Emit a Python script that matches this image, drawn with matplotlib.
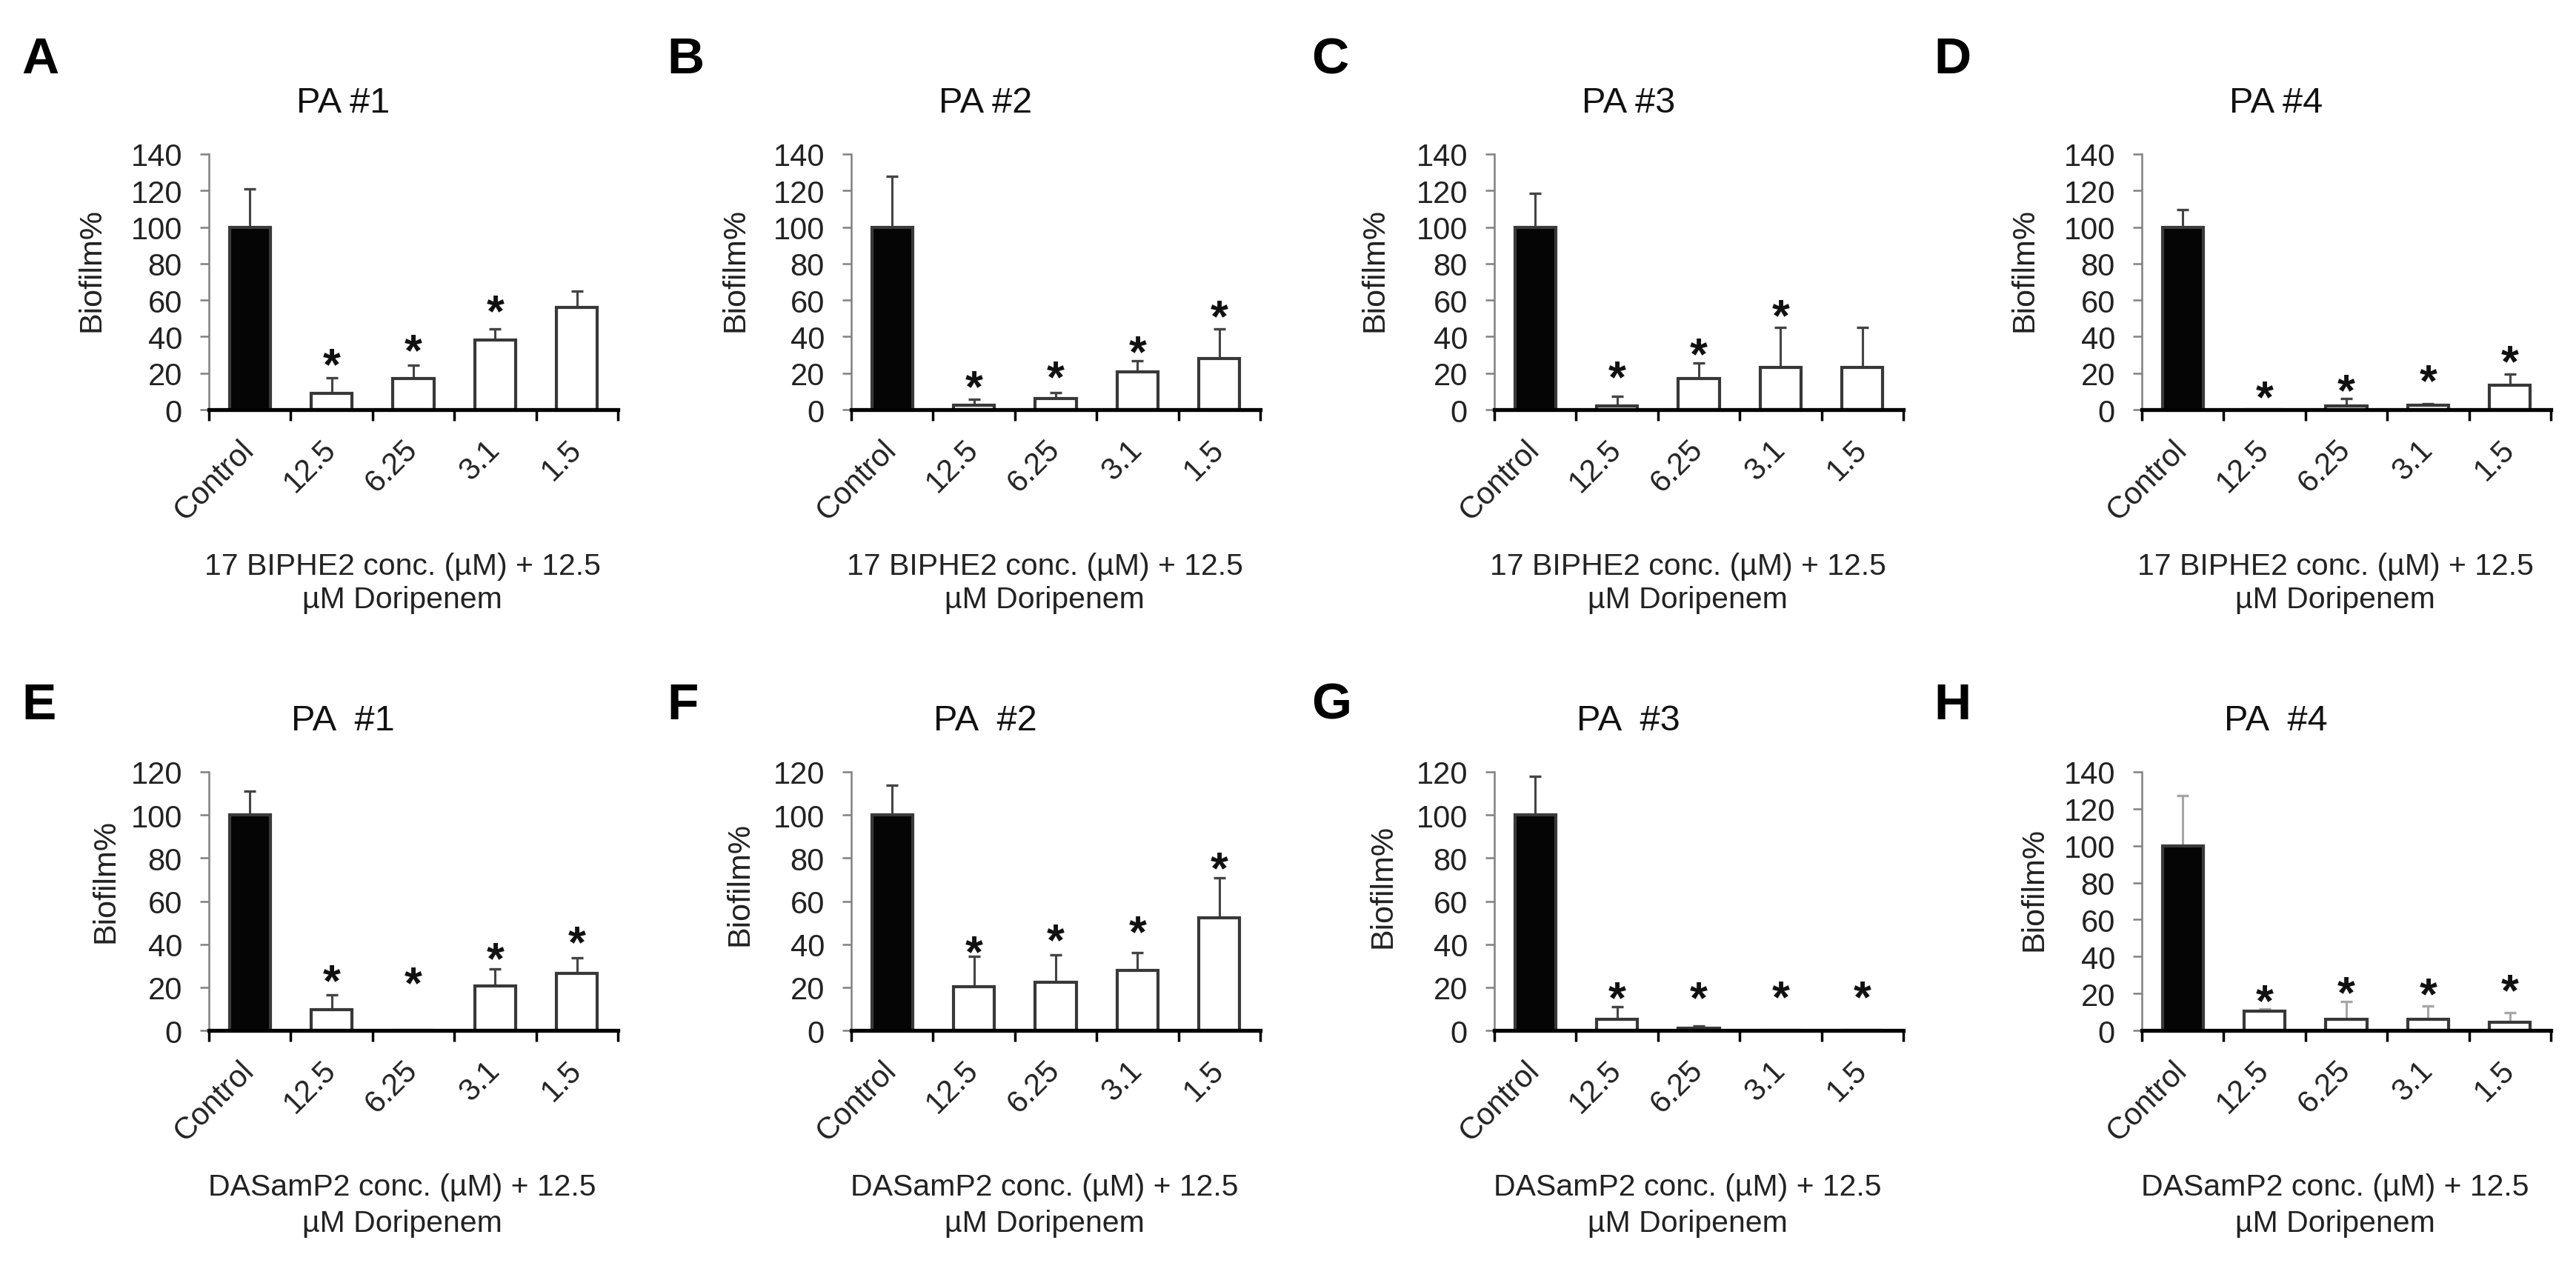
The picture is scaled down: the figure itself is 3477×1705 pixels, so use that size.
import numpy as np
import matplotlib
matplotlib.use('Agg')
import matplotlib.pyplot as plt
from matplotlib.transforms import ScaledTranslation

plt.rcParams['font.family'] = ['Liberation Sans', 'DejaVu Sans']

# 데이터
categories = ['Control', '12.5', '6.25', '3.1', '1.5']
letters = ['A', 'B', 'C', 'D', 'E', 'F', 'G', 'H']
titles = ['PA #1', 'PA #2', 'PA #3', 'PA #4', 'PA  #1', 'PA  #2', 'PA  #3', 'PA  #4']
xlabel_top = ['17 BIPHE2 conc. (\u00b5M) + 12.5', '\u00b5M Doripenem']
xlabel_bottom = ['DASamP2 conc. (\u00b5M) + 12.5', '\u00b5M Doripenem']
ymax = [140, 140, 140, 140, 120, 120, 120, 140]

a_mean = [100, 8.8, 17.2, 38.1, 55.8]
a_err = [20.8, 8.8, 7.1, 6.0, 9.2]
a_star = [None, 29.2, 37.1, 58.4, None]

b_mean = [100, 2.3, 6.2, 20.6, 28.1]
b_err = [28.0, 3.2, 3.1, 6.2, 16.1]
b_star = [None, 17.2, 22.6, 36.4, 55.6]

c_mean = [100, 2.0, 17.2, 23.0, 23.0]
c_err = [18.3, 5.3, 8.2, 21.9, 21.9]
c_star = [None, 22.6, 35.0, 56.3, None]

d_mean = [100, 0, 2.0, 2.3, 13.5]
d_err = [9.7, 0, 4.2, 1.1, 6.1]
d_star = [None, 11.7, 15.1, 20.6, 30.9]

e_mean = [100, 9.6, 0, 20.8, 26.6]
e_err = [11.0, 7.0, 0, 7.7, 7.0]
e_star = [None, 27.0, 26.0, 37.4, 44.9]

f_mean = [100, 20.4, 22.3, 27.9, 52.1]
f_err = [13.8, 13.9, 12.8, 8.3, 18.8]
f_star = [None, 40.2, 45.8, 49.6, 79.2]

g_mean = [100, 5.3, 1.1, 0, 0]
g_err = [18.1, 5.6, 0.8, 0, 0]
g_star = [None, 18.9, 18.9, 19.4, 19.4]

h_mean = [100, 10.6, 6.2, 6.2, 4.4]
h_err = [27.2, 1.1, 9.6, 7.0, 5.1]
h_star = [None, 20.5, 24.9, 24.2, 26.4]

means = [a_mean, b_mean, c_mean, d_mean, e_mean, f_mean, g_mean, h_mean]
errs = [a_err, b_err, c_err, d_err, e_err, f_err, g_err, h_err]
stars = [a_star, b_star, c_star, d_star, e_star, f_star, g_star, h_star]

# 레이아웃 (픽셀)
W, H = 3477, 1706
col_left = [282, 1149, 2017, 2891]
ax_w = 552
row_top = [209, 1043]
ax_h = [345, 349]
letter_x = [29, 900, 1770, 2610]
letter_base = [99, 971]
ylabel_pad = [24, 22, 26, 24, 10, 18, 18, 14]
ylabel_y = [0.55, 0.55, 0.55, 0.55, 0.58, 0.57, 0.56, 0.55]
err_colors = ['#444444'] * 7 + ['#a6a6a6']

fig = plt.figure(figsize=(W / 100, H / 100), dpi=100)

for k in range(8):
    r, c = divmod(k, 4)
    left = col_left[c] / W
    bottom = 1 - (row_top[r] + ax_h[r]) / H
    ax = fig.add_axes([left, bottom, ax_w / W, ax_h[r] / H])

    x = np.arange(len(categories))
    m = np.array(means[k], dtype=float)
    e = np.array(errs[k], dtype=float)
    face = ['#050505'] + ['white'] * 4
    edge = ['#3a3a3a'] + ['#383838'] * 4
    ax.bar(x, m, width=0.5, color=face, edgecolor=edge, linewidth=3, zorder=3)
    keep = e > 0
    ax.errorbar(x[keep], m[keep], yerr=[np.zeros(keep.sum()), e[keep]], fmt='none',
                ecolor=err_colors[k], elinewidth=2.2, capsize=5.5, capthick=2.4, zorder=2)

    # 유의성 별표
    for i, s in enumerate(stars[k]):
        if s is None:
            continue
        ax.annotate('*', xy=(i, s), xytext=(0, -22), textcoords='offset points',
                    ha='center', va='baseline', fontsize=44, fontweight='bold', color='#111111')

    ax.set_xlim(-0.5, 4.5)
    ax.set_ylim(0, ymax[k])
    ax.set_yticks(np.arange(0, ymax[k] + 1, 20))
    ax.set_xticks(x)
    ax.set_xticks(np.arange(-0.5, 4.6, 1), minor=True)
    ax.set_xticklabels(categories, rotation=45, ha='right', va='center',
                       rotation_mode='anchor', fontsize=30, color='#222222')
    for lab in ax.get_xticklabels():
        lab.set_transform(lab.get_transform() + ScaledTranslation(0.2, 0, fig.dpi_scale_trans))
    ax.tick_params(axis='x', which='major', length=0, pad=34)
    ax.tick_params(axis='x', which='minor', length=10.5, width=2.5, color='black', direction='out')
    ax.tick_params(axis='y', length=9, width=1.8, color='#808080', pad=17,
                   labelsize=30, labelcolor='#222222')

    for sp in ['top', 'right']:
        ax.spines[sp].set_visible(False)
    ax.spines['bottom'].set_linewidth(3.8)
    ax.spines['bottom'].set_color('black')
    ax.spines['bottom'].set_zorder(4)
    ax.spines['left'].set_linewidth(1.8)
    ax.spines['left'].set_color('#808080')

    ax.set_ylabel('Biofilm%', fontsize=31, color='#222222', labelpad=ylabel_pad[k], y=ylabel_y[k])

    # 제목 (차트 영역 중앙)
    ax.text(0.5 - 95 / ax_w, 1 + 57 / ax_h[r], titles[k], transform=ax.transAxes,
            ha='center', va='baseline', fontsize=35, color='#111111')

    lines = xlabel_top if r == 0 else xlabel_bottom
    gap2 = 267 if r == 0 else 271
    ax.text(0.5 - 15 / ax_w, -222 / ax_h[r], lines[0], transform=ax.transAxes,
            ha='center', va='baseline', fontsize=29.5, color='#222222')
    ax.text(0.5 - 15 / ax_w, -gap2 / ax_h[r], lines[1], transform=ax.transAxes,
            ha='center', va='baseline', fontsize=29.5, color='#222222')

    fig.text(letter_x[c] / W, 1 - letter_base[r] / H, letters[k], ha='left', va='baseline',
             fontsize=50, fontweight='bold')

plt.savefig('out.png', dpi=100, facecolor='white')
